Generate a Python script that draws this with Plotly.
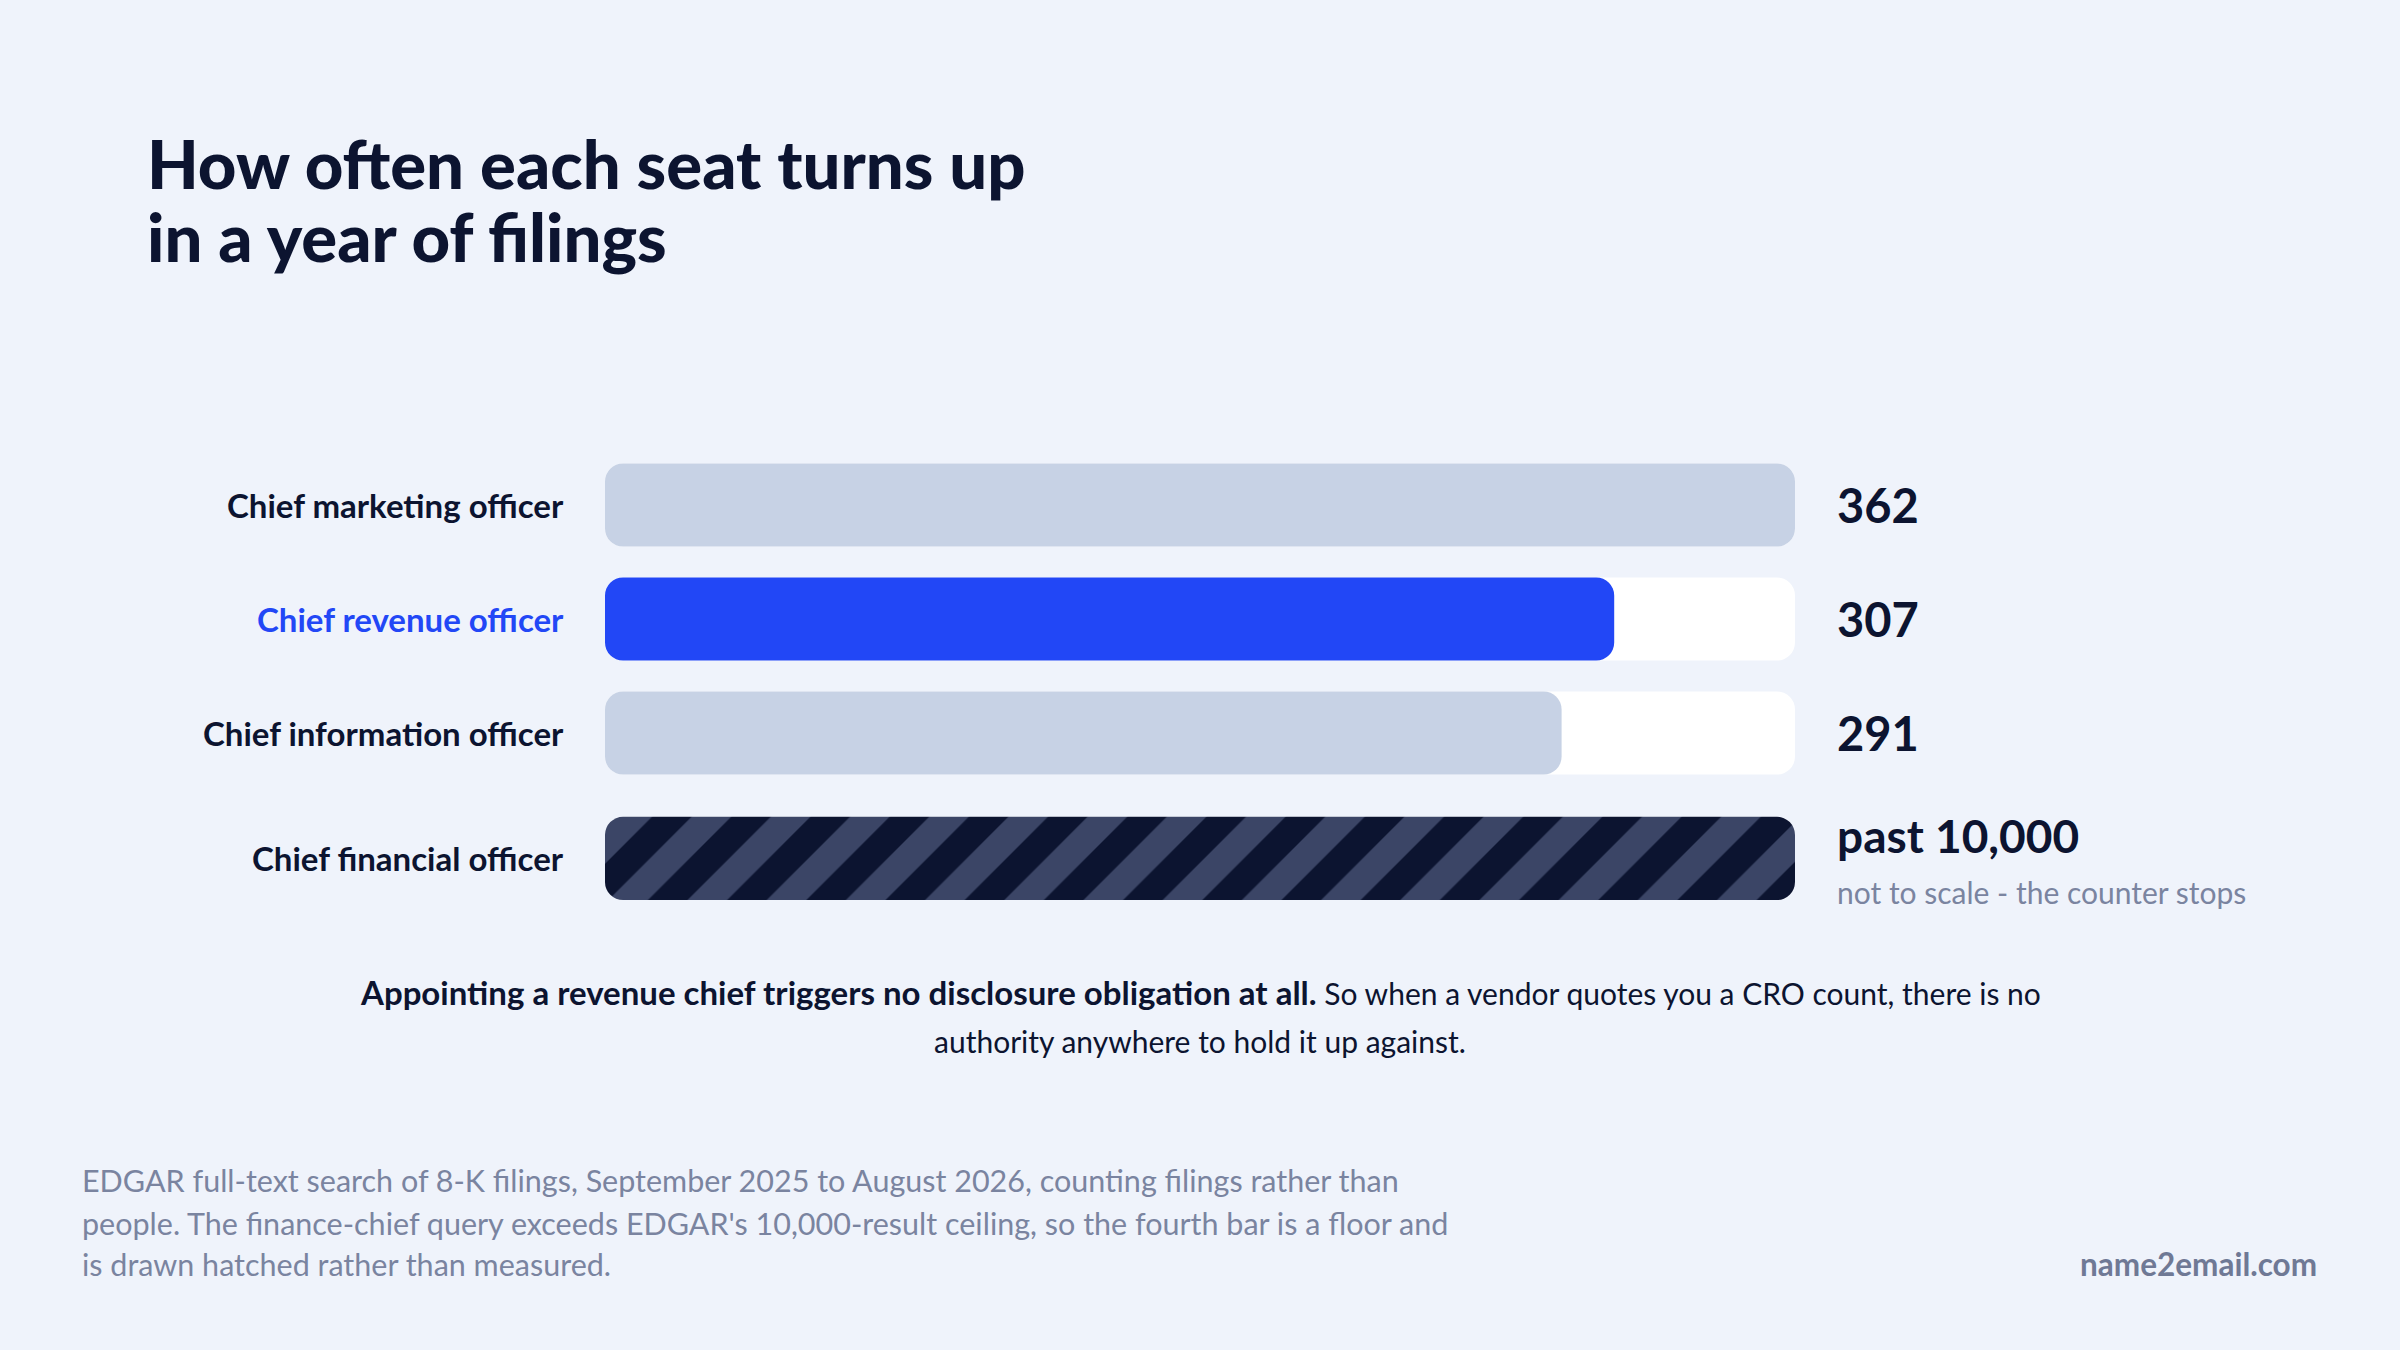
import plotly.graph_objects as go

# dados
seats = ["Chief marketing officer", "Chief revenue officer", "Chief information officer", "Chief financial officer"]
filings = [362, 307, 291, 10000]
value_labels = ["362", "307", "291", "past 10,000"]
cfo_note = "not to scale - the counter stops"

title_lines = ["How often each seat turns up", "in a year of filings"]
caption_bold = "Appointing a revenue chief triggers no disclosure obligation at all."
caption_rest = ["So when a vendor quotes you a CRO count, there is no", "authority anywhere to hold it up against."]
source_lines = [
    "EDGAR full-text search of 8-K filings, September 2025 to August 2026, counting filings rather than",
    "people. The finance-chief query exceeds EDGAR's 10,000-result ceiling, so the fourth bar is a floor and",
    "is drawn hatched rather than measured.",
]
brand = "name2email.com"

# cores
BG = "#eff3fb"
INK = "#0c1430"
GREY = "#7a84a0"
LIGHT = "#c7d2e5"
BLUE = "#2247f6"
STRIPE = "#3b4566"

W, H = 2400, 1350
scale_max = max(filings[:3])  # a barra do CFO é cortada no fim da escala
row_pos = [0, 1, 2, 3.1]
BAR_W = 0.73
RADIUS = 18


def py(px):
    # pixel (a partir do topo) -> coordenada paper
    return 1 - px / H


def add_pill(fig, ys, vals, color, pattern=None):
    # com base explícita o plotly arredonda as duas pontas da barra
    marker = dict(color=color, line=dict(width=0), cornerradius=RADIUS)
    if pattern:
        marker["pattern"] = pattern
    fig.add_trace(go.Bar(
        y=ys, x=vals, base=[0] * len(vals), orientation="h", width=BAR_W,
        marker=marker, hoverinfo="skip", showlegend=False,
    ))


fig = go.Figure()

capped = [min(v, scale_max) for v in filings]

# trilho branco atrás das barras
add_pill(fig, row_pos, [scale_max] * len(seats), "white")
# barras medidas
add_pill(fig, row_pos[:3], capped[:3], [LIGHT, BLUE, LIGHT])
# barra do CFO, hachurada
add_pill(fig, row_pos[3:], capped[3:], INK,
         pattern=dict(shape="/", fillmode="replace", bgcolor=INK, fgcolor=STRIPE,
                      fgopacity=1, size=56, solidity=0.5))

# rótulos das categorias e valores
label_colors = [INK, BLUE, INK, INK]
for i, seat in enumerate(seats):
    fig.add_annotation(
        x=0, y=row_pos[i], xref="x", yref="y", text="<b>" + seat + "</b>",
        xanchor="right", yanchor="middle", xshift=-39, showarrow=False,
        font=dict(family="Lato", size=33, color=label_colors[i]),
    )
    if i < 3:
        fig.add_annotation(
            x=scale_max, y=row_pos[i], xref="x", yref="y", text="<b>" + value_labels[i] + "</b>",
            xanchor="left", yanchor="middle", xshift=40, showarrow=False,
            font=dict(family="Lato", size=47, color=INK),
        )
    else:
        fig.add_annotation(
            x=scale_max, y=row_pos[i], xref="x", yref="y", text="<b>" + value_labels[i] + "</b>",
            xanchor="left", yanchor="middle", xshift=40, yshift=23, showarrow=False,
            font=dict(family="Lato", size=46, color=INK),
        )
        fig.add_annotation(
            x=scale_max, y=row_pos[i], xref="x", yref="y", text=cfo_note,
            xanchor="left", yanchor="middle", xshift=40, yshift=-34, showarrow=False,
            font=dict(family="Lato", size=30, color=GREY),
        )

# título
for txt, ypx in zip(title_lines, [163, 236]):
    fig.add_annotation(
        x=145 / W, y=py(ypx), xref="paper", yref="paper", text=txt,
        xanchor="left", yanchor="middle", showarrow=False,
        font=dict(family="Lato", size=67, color=INK, weight=900),
    )

# legenda central
fig.add_annotation(
    x=0.5, y=py(992), xref="paper", yref="paper",
    text="<span style='font-size:33px'><b>" + caption_bold + "</b></span> " + caption_rest[0],
    xanchor="center", yanchor="middle", showarrow=False,
    font=dict(family="Lato", size=30, color=INK),
)
fig.add_annotation(
    x=0.5, y=py(1041), xref="paper", yref="paper", text=caption_rest[1],
    xanchor="center", yanchor="middle", showarrow=False,
    font=dict(family="Lato", size=30, color=INK),
)

# fonte
for txt, ypx in zip(source_lines, [1180, 1223, 1264]):
    fig.add_annotation(
        x=80 / W, y=py(ypx), xref="paper", yref="paper", text=txt,
        xanchor="left", yanchor="middle", showarrow=False,
        font=dict(family="Lato", size=30.5, color=GREY),
    )
fig.add_annotation(
    x=2319 / W, y=py(1264), xref="paper", yref="paper", text="<b>" + brand + "</b>",
    xanchor="right", yanchor="middle", showarrow=False,
    font=dict(family="Lato", size=31.5, color="#6f7995"),
)

fig.update_layout(
    width=W, height=H,
    margin=dict(l=0, r=0, t=0, b=0),
    paper_bgcolor=BG, plot_bgcolor=BG,
    barmode="overlay",
    xaxis=dict(domain=[605 / W, 1795 / W], range=[0, scale_max], visible=False, fixedrange=True),
    yaxis=dict(domain=[py(917.7), py(448)], range=[3.62, -0.5], visible=False, fixedrange=True),
)

fig.write_html(
    "out.html",
    config={"displayModeBar": False},
    post_script="document.body.style.margin='0';document.body.style.overflow='hidden';"
                "document.body.style.background='" + BG + "';",
)
